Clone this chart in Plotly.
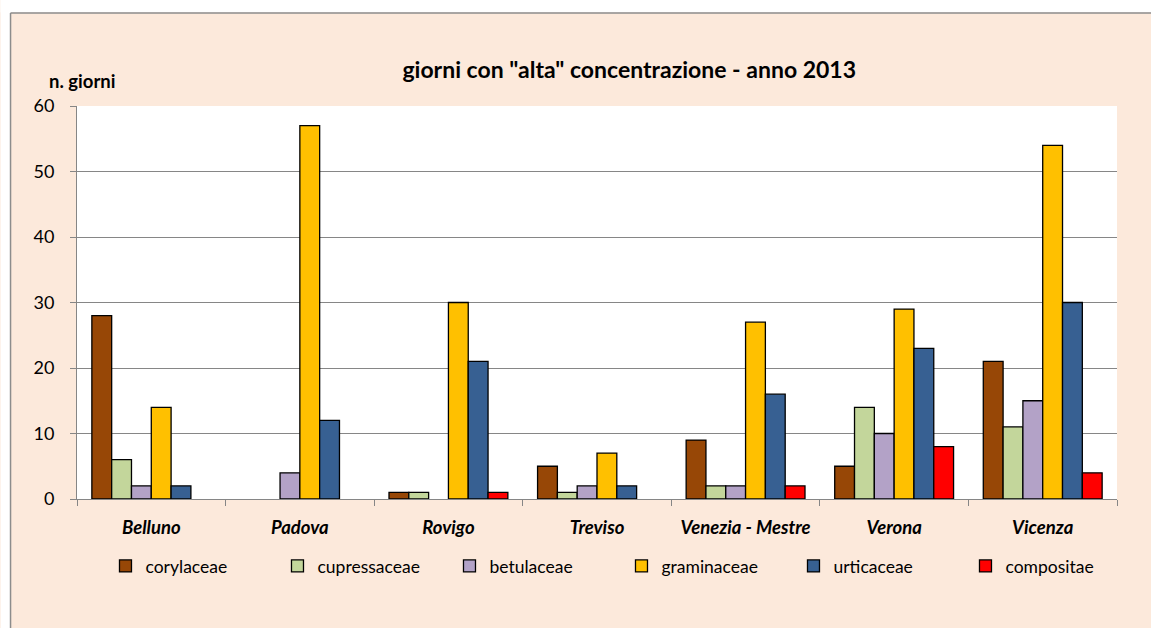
import plotly.graph_objects as go

categories = ["Belluno", "Padova", "Rovigo", "Treviso", "Venezia - Mestre", "Verona", "Vicenza"]
corylaceae = [28, 0, 1, 5, 9, 5, 21]
cupressaceae = [6, 0, 1, 1, 2, 14, 11]
betulaceae = [2, 4, 0, 2, 2, 10, 15]
graminaceae = [14, 57, 30, 7, 27, 29, 54]
urticaceae = [2, 12, 21, 2, 16, 23, 30]
compositae = [0, 0, 1, 0, 2, 8, 4]

series = [
    ("corylaceae", corylaceae, "#974706"),
    ("cupressaceae", cupressaceae, "#C3D69B"),
    ("betulaceae", betulaceae, "#B3A2C7"),
    ("graminaceae", graminaceae, "#FFC000"),
    ("urticaceae", urticaceae, "#376092"),
    ("compositae", compositae, "#FF0000"),
]

W, H = 1151, 628
L, R, T, B = 76.5, 34, 106, 129
pw, ph = W - L - R, H - T - B

def px(x):
    return (x - L) / pw

def py(y):
    return (H - B - y) / ph

fig = go.Figure()
for name, vals, col in series:
    fig.add_trace(go.Bar(
        x=categories, y=[v if v else None for v in vals], name=name,
        marker=dict(color=col, line=dict(color="#000000", width=1.3)),
    ))

FONT = "Lato"
fig.update_layout(
    width=W, height=H,
    margin=dict(l=L, r=R, t=T, b=B, pad=0),
    paper_bgcolor="#FCE9DB",
    plot_bgcolor="#FFFFFF",
    barmode="group", bargap=0.2, bargroupgap=0,
    font=dict(family=FONT, color="#000000"),
    title=dict(text='<b>giorni con "alta" concentrazione - anno 2013</b>',
               x=px(629), xanchor="center", xref="paper",
               y=1 - 70 / H, yanchor="middle",
               font=dict(size=23, family=FONT)),
    xaxis=dict(
        tickfont=dict(size=18.5, family=FONT),
        tickprefix="<b><i>", ticksuffix="</i></b>",
        showline=True, linecolor="#868686", linewidth=1,
        ticks="outside", tickson="boundaries", ticklen=6, tickcolor="#868686",
        showgrid=False, ticklabelstandoff=12,
    ),
    yaxis=dict(
        range=[0, 60], dtick=10,
        tickfont=dict(size=18, family=FONT),
        showline=True, linecolor="#868686", linewidth=1,
        ticks="outside", ticklen=6, tickcolor="#868686",
        showgrid=True, gridcolor="#868686", gridwidth=1,
        zeroline=False, ticklabelstandoff=12,
    ),
    legend=dict(
        orientation="h", x=px(105), xanchor="left", y=py(566), yanchor="middle",
        font=dict(size=17.5, family=FONT), entrywidth=127, entrywidthmode="pixels",
        bgcolor="rgba(0,0,0,0)", traceorder="normal",
    ),
    showlegend=True,
)

fig.add_annotation(text="<b>n. giorni</b>", xref="paper", yref="paper",
                   x=px(46), y=py(81), xanchor="left", yanchor="middle",
                   showarrow=False, font=dict(size=18.5, family=FONT))

# white outer margin and grey frame of the chart area
fig.add_shape(type="rect", xref="paper", yref="paper", layer="below",
              x0=px(0), x1=px(10), y0=py(H), y1=py(0),
              fillcolor="#FFFFFF", line=dict(width=0))
fig.add_shape(type="rect", xref="paper", yref="paper", layer="below",
              x0=px(0), x1=px(W), y0=py(12.5), y1=py(0),
              fillcolor="#FFFFFF", line=dict(width=0))
fig.add_shape(type="line", xref="paper", yref="paper", layer="below",
              x0=px(10), x1=px(W), y0=py(13), y1=py(13),
              line=dict(color="#8C8C8C", width=1.5))
fig.add_shape(type="line", xref="paper", yref="paper", layer="below",
              x0=px(10), x1=px(10), y0=py(13), y1=py(H),
              line=dict(color="#8C8C8C", width=1.5))

fig.write_html("out.html", config={"displayModeBar": False},
               post_script="document.body.style.margin='0px';")
